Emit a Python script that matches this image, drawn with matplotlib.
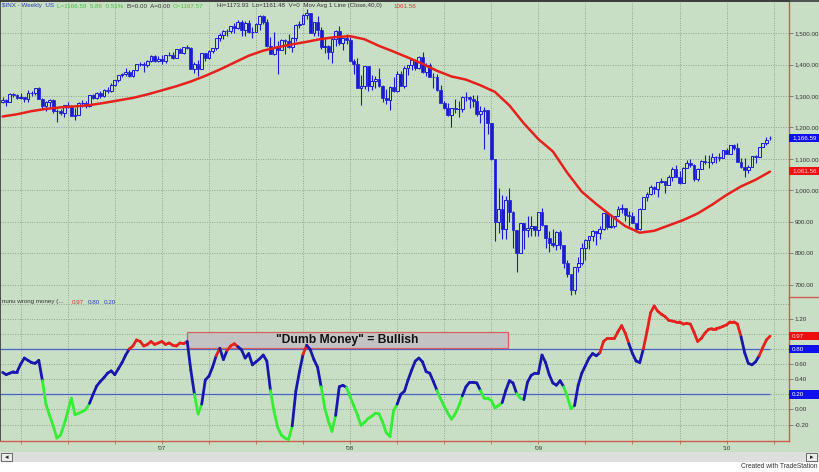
#!/usr/bin/env python3

import numpy as np
import pandas as pd
from matplotlib import pyplot as plt
from matplotlib.collections import LineCollection
from matplotlib.patches import Rectangle
from matplotlib.transforms import blended_transform_factory

plt.rcParams['font.family'] = ['Liberation Sans', 'DejaVu Sans']

###-----------------------------------------------------------------------
# weekly $INX bars, the first week ends on 2006-03-03
###-----------------------------------------------------------------------
first_friday = '2006-03-03'

opens = [
    1280, 1287, 1281, 1307, 1303, 1295, 1296, 1289, 1311, 1311, 1326, 1291, 1267, 1280, 1288, 1252, 1252, 1245, 1270, 1266, 1236, 1240,
    1279, 1279, 1267, 1302, 1295, 1311, 1299, 1320, 1315, 1336, 1350, 1366, 1369, 1377, 1364, 1381, 1401, 1401, 1397, 1410, 1427, 1411,
    1418, 1410, 1431, 1431, 1422, 1448, 1438, 1456, 1451, 1387, 1403, 1387, 1436, 1421, 1444, 1453, 1484, 1494, 1506, 1506, 1523, 1516,
    1536, 1508, 1533, 1503, 1503, 1530, 1553, 1534, 1459, 1433, 1454, 1446, 1479, 1474, 1454, 1484, 1526, 1527, 1558, 1562, 1501, 1535,
    1510, 1454, 1459, 1441, 1481, 1505, 1468, 1485,
    1479, 1412, 1401, 1325, 1331, 1395, 1331, 1349, 1353, 1331, 1293, 1288, 1330, 1315, 1370, 1333, 1390, 1398, 1414, 1388, 1425, 1376,
    1400, 1361, 1360, 1318, 1278, 1263, 1240, 1261, 1258, 1260, 1296, 1298, 1292, 1283, 1242, 1252, 1255, 1213, 1099, 899, 941, 877,
    969, 931, 873, 800, 896, 876, 880, 888,
    873, 932, 890, 850, 832, 826, 869, 827, 770, 735, 683, 757, 769, 816, 843, 857, 870, 866, 878, 929, 883, 887,
    919, 940, 946, 921, 919, 896, 879, 940, 979, 988, 1010, 1004, 1026, 1029, 1016, 1043, 1068, 1044, 1025, 1072, 1088, 1080,
    1036, 1069, 1094, 1091, 1092, 1106, 1106, 1103, 1127,
    1115, 1145, 1136, 1092, 1074, 1066, 1076, 1109, 1105, 1139, 1150, 1168]
highs = [
    1297, 1289, 1310, 1311, 1306, 1310, 1298, 1318, 1316, 1326, 1327, 1294, 1285, 1290, 1290, 1260, 1258, 1272, 1280, 1272, 1262, 1280,
    1287, 1283, 1303, 1305, 1312, 1315, 1322, 1329, 1340, 1352, 1366, 1372, 1389, 1382, 1384, 1403, 1407, 1408, 1415, 1431, 1430, 1428,
    1429, 1431, 1441, 1441, 1449, 1453, 1457, 1461, 1457, 1409, 1413, 1437, 1437, 1445, 1453, 1485, 1499, 1510, 1513, 1523, 1532, 1540,
    1540, 1538, 1540, 1518, 1532, 1556, 1556, 1545, 1488, 1504, 1474, 1480, 1481, 1497, 1488, 1530, 1538, 1561, 1576, 1563, 1536, 1553,
    1520, 1486, 1461, 1488, 1508, 1523, 1485, 1498,
    1486, 1417, 1420, 1368, 1396, 1396, 1368, 1363, 1388, 1335, 1321, 1331, 1359, 1380, 1380, 1395, 1400, 1422, 1416, 1426, 1440, 1406,
    1405, 1374, 1370, 1336, 1285, 1278, 1263, 1290, 1285, 1300, 1313, 1300, 1304, 1304, 1268, 1265, 1255, 1215, 1100, 1008, 985, 984,
    1007, 934, 874, 897, 897, 918, 918, 888,
    932, 943, 890, 871, 877, 870, 876, 827, 779, 735, 758, 788, 832, 845, 857, 875, 871, 888, 930, 931, 925, 920,
    951, 956, 946, 935, 931, 898, 943, 979, 996, 1018, 1013, 1027, 1039, 1031, 1049, 1074, 1080, 1063, 1076, 1096, 1101, 1085,
    1072, 1097, 1113, 1112, 1120, 1110, 1118, 1127, 1134,
    1146, 1149, 1151, 1104, 1104, 1080, 1110, 1112, 1139, 1151, 1170, 1174]
lows = [
    1278, 1268, 1280, 1298, 1291, 1290, 1280, 1281, 1301, 1303, 1290, 1259, 1252, 1264, 1245, 1219, 1240, 1234, 1262, 1235, 1224, 1240,
    1265, 1261, 1266, 1290, 1292, 1295, 1297, 1311, 1313, 1331, 1344, 1360, 1363, 1360, 1360, 1378, 1395, 1377, 1393, 1408, 1408, 1408,
    1403, 1406, 1427, 1416, 1420, 1438, 1433, 1449, 1387, 1374, 1364, 1385, 1410, 1419, 1437, 1447, 1475, 1482, 1491, 1499, 1500, 1514,
    1491, 1492, 1500, 1484, 1503, 1510, 1527, 1454, 1432, 1430, 1371, 1445, 1433, 1452, 1439, 1476, 1516, 1527, 1546, 1500, 1490, 1492,
    1450, 1435, 1419, 1406, 1460, 1463, 1446, 1466,
    1411, 1371, 1325, 1270, 1322, 1317, 1320, 1326, 1330, 1282, 1274, 1257, 1312, 1312, 1332, 1324, 1368, 1383, 1384, 1386, 1373, 1364,
    1359, 1326, 1316, 1278, 1260, 1238, 1200, 1246, 1234, 1248, 1283, 1262, 1265, 1236, 1213, 1133, 1180, 1098, 840, 866, 845, 845,
    899, 818, 741, 800, 815, 851, 857, 857,
    857, 888, 818, 804, 822, 812, 814, 754, 726, 667, 672, 742, 764, 779, 814, 839, 826, 845, 875, 879, 880, 882,
    919, 928, 903, 888, 896, 869, 876, 940, 968, 987, 990, 978, 1023, 992, 1016, 1030, 1042, 1020, 1025, 1072, 1075, 1030,
    1029, 1069, 1085, 1073, 1085, 1088, 1093, 1103, 1115,
    1115, 1127, 1090, 1072, 1044, 1057, 1076, 1087, 1105, 1138, 1146, 1161]
closes = [
    1287, 1281, 1307, 1303, 1295, 1296, 1289, 1311, 1311, 1326, 1291, 1267, 1280, 1288, 1252, 1252, 1245, 1270, 1266, 1236, 1240, 1279,
    1279, 1267, 1302, 1295, 1311, 1299, 1320, 1315, 1336, 1350, 1366, 1369, 1377, 1364, 1381, 1401, 1401, 1397, 1410, 1427, 1411, 1418,
    1410, 1431, 1431, 1422, 1448, 1438, 1456, 1451, 1387, 1403, 1387, 1436, 1421, 1444, 1453, 1484, 1494, 1506, 1506, 1523, 1516, 1536,
    1508, 1533, 1503, 1503, 1530, 1553, 1534, 1459, 1433, 1454, 1446, 1479, 1474, 1454, 1484, 1526, 1527, 1558, 1562, 1501, 1535, 1510,
    1454, 1459, 1441, 1481, 1505, 1468, 1485, 1479,
    1412, 1401, 1325, 1331, 1395, 1331, 1349, 1353, 1331, 1293, 1288, 1330, 1315, 1370, 1333, 1390, 1398, 1414, 1388, 1425, 1376, 1400,
    1361, 1360, 1318, 1278, 1263, 1240, 1261, 1258, 1260, 1296, 1298, 1292, 1283, 1242, 1252, 1255, 1213, 1099, 899, 941, 877, 969,
    931, 873, 800, 896, 876, 880, 888, 873,
    932, 890, 850, 832, 826, 869, 827, 770, 735, 683, 757, 769, 816, 843, 857, 870, 866, 878, 929, 883, 887, 919,
    940, 946, 921, 919, 896, 879, 940, 979, 988, 1010, 1004, 1026, 1029, 1016, 1043, 1068, 1044, 1025, 1072, 1088, 1080, 1036,
    1069, 1094, 1091, 1092, 1106, 1106, 1103, 1127, 1115,
    1145, 1136, 1092, 1074, 1066, 1076, 1109, 1105, 1139, 1150, 1160, 1167]

# Mov Avg 1 Line (Close,40) every 4th week
ma_week = list(range(0, 213, 4))
ma_close = [
    1235, 1242, 1252, 1259, 1264, 1267, 1271, 1278, 1286, 1294, 1305, 1318, 1331, 1346,
    1364, 1384, 1406, 1428, 1444, 1455, 1464, 1472, 1481, 1487, 1490, 1480, 1459, 1441,
    1422, 1402, 1380, 1362, 1352, 1334, 1313, 1270, 1213, 1163, 1124, 1056, 996, 957,
    921, 887, 866, 872, 889, 906, 927, 955, 986, 1013, 1034, 1060]

# nunu wrong money, one value per week
dumb_money = [
    0.49, 0.46, 0.48, 0.50, 0.50, 0.60, 0.68, 0.65, 0.62, 0.61,
    0.65, 0.38, 0.06, -0.08, -0.22, -0.38, -0.34, -0.20, -0.03, 0.15,
    -0.07, -0.05, -0.03, 0.00, 0.08, 0.20, 0.31, 0.37, 0.42, 0.48,
    0.51, 0.46, 0.54, 0.62, 0.72, 0.80, 0.84, 0.92, 0.90, 0.84,
    0.86, 0.90, 0.86, 0.88, 0.90, 0.86, 0.88, 0.85, 0.84, 0.88,
    0.87, 0.90, 0.52, 0.20, -0.06, 0.07, 0.39, 0.44, 0.56, 0.71,
    0.81, 0.66, 0.78, 0.84, 0.87, 0.83, 0.79, 0.68, 0.74, 0.59,
    0.63, 0.67, 0.72, 0.64, 0.25, -0.03, -0.24, -0.34, -0.38, -0.40,
    -0.22, 0.24, 0.50, 0.73, 0.85, 0.79, 0.66, 0.56, 0.30, 0.02,
    -0.16, -0.29, -0.08, 0.30, 0.32, 0.29, 0.17, 0.05, -0.07, -0.21,
    -0.17, -0.12, -0.09, -0.05, -0.06, -0.17, -0.31, -0.36, -0.02, 0.07,
    0.20, 0.24, 0.39, 0.52, 0.64, 0.68, 0.63, 0.50, 0.48, 0.37,
    0.25, 0.14, 0.04, -0.05, -0.13, -0.06, 0.04, 0.18, 0.30, 0.36,
    0.36, 0.35, 0.25, 0.15, 0.15, 0.12, 0.02, 0.05, 0.09, 0.25,
    0.38, 0.35, 0.21, 0.15, 0.13, 0.36, 0.45, 0.48, 0.48, 0.72,
    0.62, 0.46, 0.35, 0.32, 0.38, 0.30, 0.17, 0.01, 0.05, 0.32,
    0.48, 0.58, 0.68, 0.74, 0.71, 0.75, 0.90, 0.94, 0.94, 0.94,
    1.03, 1.11, 1.01, 0.87, 0.74, 0.64, 0.62, 0.80, 1.03, 1.28,
    1.37, 1.30, 1.26, 1.23, 1.18, 1.17, 1.16, 1.16, 1.13, 1.14,
    1.13, 1.02, 0.90, 0.94, 1.01, 1.06, 1.07, 1.07, 1.08, 1.10,
    1.12, 1.16, 1.16, 1.13, 0.96, 0.75, 0.61, 0.59, 0.63, 0.71,
    0.82, 0.92, 0.97]

price_ticks = [700, 800, 900, 1000, 1100, 1200, 1300, 1400, 1500]
money_ticks = [-0.2, 0.0, 0.2, 0.4, 0.6, 0.8, 1.0, 1.2]
money_grid = [-0.2, 0.0, 0.2, 0.4, 0.6, 0.8, 1.0, 1.2, 1.4]
year_labels = ["'07", "'08", "'09", "'10"]

last_close = 1166.59
last_ma = 1061.56
money_last = 0.97
money_upper = 0.80
money_lower = 0.20

header_parts = [
    ('$INX - Weekly  US', '#2b3cc4'),
    ('L=1166.59  5.86  0.51%', '#3fc43f'),
    ('B=0.00  A=0.00', '#333333'),
    ('O=1167.57', '#3fc43f'),
    ('Hi=1173.93  Lo=1161.48  V=0  Mov Avg 1 Line (Close,40,0)', '#333333'),
    ('1061.56', '#e03030')]
header_x = [2, 57, 127, 173, 217, 393]
money_header = [('nunu wrong money (...', '#333333'), ('0.97', '#e03030'),
                ('0.80', '#2b3cc4'), ('0.20', '#2b3cc4')]
money_header_x = [2, 72, 88, 104]

# "Dumb Money" note, anchored in weeks / indicator units
note_text = '"Dumb Money" = Bullish'
note_weeks = (50.9, 139.6)
note_values = (0.813, 1.025)

###-----------------------------------------------------------------------
# layout (pixels)
###-----------------------------------------------------------------------
W, H = 820, 472
PLOT_RIGHT = 789
PRICE_PX = (1, 298)
MONEY_PX = (298, 441)
BG = '#c9dfc5'
GRID = '#8ea58e'
BLUE = '#1a1ad0'
RED = '#e6201c'
NAVY = '#1717ad'
LIME = '#33ee33'
SPINE_RED = '#c9604c'
DARK = '#3a3a3a'
SMALL = 4.5


def fx(px):
    return px / W


def fy(py):
    return 1.0 - py / H


def panel(fig, top, bottom):
    return fig.add_axes([0, fy(bottom), fx(PLOT_RIGHT), (bottom - top) / H])


def tag(ax, value, text, color, txtcolor, px_per_unit):
    tr = blended_transform_factory(ax.transAxes, ax.transData)
    h = 8.5 / px_per_unit
    ax.add_patch(Rectangle((1.0, value - h / 2), 31 / PLOT_RIGHT, h, transform=tr,
                           facecolor=color, edgecolor='none', clip_on=False, zorder=10))
    ax.text(1.0 + 3 / PLOT_RIGHT, value, text, transform=tr, color=txtcolor,
            fontsize=SMALL, va='center', ha='left', zorder=11, clip_on=False)


o = np.array(opens, dtype=float)
hi = np.array(highs, dtype=float)
lo = np.array(lows, dtype=float)
c = np.array(closes, dtype=float)
money = np.array(dumb_money)
n = len(c)
x = np.arange(n)

dates = pd.date_range(first_friday, periods=n + 6, freq='W-FRI')
qkey = dates.year * 4 + dates.quarter
quarter_starts = np.where(np.diff(qkey) != 0)[0] + 1
year_starts = np.where(np.diff(dates.year) != 0)[0] + 1

xlim = ((0 - 2.6) / 3.62, (PLOT_RIGHT - 2.6) / 3.62)

fig = plt.figure(figsize=(W / 100, H / 100), dpi=100, facecolor=BG)

###-----------------------------------------------------------------------
# price panel
###-----------------------------------------------------------------------
ax = panel(fig, *PRICE_PX)
ax.set_facecolor(BG)
ax.set_xlim(*xlim)
ax.set_ylim(658.7, 1601.6)

for q in quarter_starts:
    ax.axvline(q, color=GRID, lw=0.7, ls=(0, (1, 1.5)), zorder=1)
for p in price_ticks:
    ax.axhline(p, color=GRID, lw=0.7, ls=(0, (1, 1.5)), zorder=1)

up = c >= o
body_lo = np.minimum(o, c)
body_hi = np.maximum(o, c)
ax.vlines(x, lo, body_lo, color=BLUE, lw=0.8, zorder=3)
ax.vlines(x, body_hi, hi, color=BLUE, lw=0.8, zorder=3)
ax.bar(x[up], (body_hi - body_lo)[up], bottom=body_lo[up], width=0.78,
       facecolor='none', edgecolor=BLUE, linewidth=0.7, zorder=3)
ax.bar(x[~up], (body_hi - body_lo)[~up], bottom=body_lo[~up], width=0.78,
       facecolor=BLUE, edgecolor=BLUE, linewidth=0.5, zorder=3)

ax.plot(ma_week, ma_close, color=RED, lw=1.8, solid_capstyle='round', zorder=4)

ax.yaxis.tick_right()
ax.set_yticks(price_ticks)
ax.set_yticklabels([f'{p:,.2f}' for p in price_ticks])
ax.tick_params(axis='y', direction='out', length=3, width=0.6, color='#707070',
               labelsize=SMALL, labelcolor='#333333', pad=1)
ax.set_xticks([])
for side in ['left', 'top']:
    ax.spines[side].set_color(DARK)
    ax.spines[side].set_linewidth(1.2)
ax.spines['right'].set_color(SPINE_RED)
ax.spines['right'].set_linewidth(1.0)
ax.spines['bottom'].set_visible(False)

ppu = (PRICE_PX[1] - PRICE_PX[0]) / (1601.6 - 658.7)
tag(ax, last_close, f'{last_close:,.2f}', '#1010ee', 'white', ppu)
tag(ax, last_ma, f'{last_ma:,.2f}', '#ee1010', '#ffd8d8', ppu)

###-----------------------------------------------------------------------
# dumb money panel
###-----------------------------------------------------------------------
bx = panel(fig, *MONEY_PX)
bx.set_facecolor('none')
bx.set_xlim(*xlim)
bx.set_ylim(-0.4185, 1.4755)

for q in quarter_starts:
    bx.axvline(q, color=GRID, lw=0.7, ls=(0, (1, 1.5)), zorder=1)
for v in money_grid:
    bx.axhline(v, color=GRID, lw=0.7, ls=(0, (1, 1.5)), zorder=1)
bx.hlines([money_upper, money_lower], xlim[0], x[-1], color='#4a62c6', lw=0.9, zorder=2)

bx.add_patch(Rectangle((note_weeks[0], note_values[0]), note_weeks[1] - note_weeks[0],
                       note_values[1] - note_values[0], facecolor='#c3c3c3',
                       edgecolor='#d86060', lw=0.9, zorder=3))
bx.text(sum(note_weeks) / 2, sum(note_values) / 2, note_text, ha='center', va='center',
        fontsize=8.7, fontweight='bold', color='#111111', zorder=3.5)

pts = np.column_stack([x, money])
segs = np.stack([pts[:-1], pts[1:]], axis=1)
seg_colors = [RED if v > money_upper else (LIME if v < money_lower else NAVY) for v in money[1:]]
bx.add_collection(LineCollection(segs, colors=seg_colors, linewidths=2.0,
                                 capstyle='round', joinstyle='round', zorder=4))

# labels at 0.20 / 0.80 / 1.00 sit under the value tags, as in TradeStation
hidden = [money_lower, money_upper, 1.0]
bx.yaxis.tick_right()
bx.set_yticks(money_ticks)
bx.set_yticklabels(['' if any(abs(v - h) < 1e-9 for h in hidden) else f'{v:.2f}'
                    for v in money_ticks])
bx.tick_params(axis='y', direction='out', length=3, width=0.6, color='#707070',
               labelsize=SMALL, labelcolor='#333333', pad=1)
bx.set_xticks(year_starts[:len(year_labels)])
bx.set_xticklabels(year_labels)
bx.set_xticks(quarter_starts, minor=True)
bx.tick_params(axis='x', which='both', direction='out', length=2, width=0.6,
               color=SPINE_RED, labelsize=SMALL, labelcolor='#333333', pad=1.5)
bx.spines['left'].set_color(DARK)
bx.spines['left'].set_linewidth(1.2)
bx.spines['top'].set_visible(False)
for side in ['right', 'bottom']:
    bx.spines[side].set_color(SPINE_RED)
    bx.spines[side].set_linewidth(1.0)

mpu = (MONEY_PX[1] - MONEY_PX[0]) / (1.4755 + 0.4185)
tag(bx, money_last, f'{money_last:.2f}', '#ee1010', '#ffd8d8', mpu)
tag(bx, money_upper, f'{money_upper:.2f}', '#1010ee', 'white', mpu)
tag(bx, money_lower, f'{money_lower:.2f}', '#1010ee', 'white', mpu)

###-----------------------------------------------------------------------
# headers, separators, scroll bar
###-----------------------------------------------------------------------
for (txt, col), px in zip(header_parts, header_x):
    fig.text(fx(px), fy(6), txt, color=col, fontsize=SMALL, va='center', ha='left')
for (txt, col), px in zip(money_header, money_header_x):
    fig.text(fx(px), fy(302), txt, color=col, fontsize=SMALL, va='center', ha='left')

fig.add_artist(plt.Line2D([fx(PLOT_RIGHT), 1.0], [fy(297), fy(297)], color=SPINE_RED, lw=1.0))
fig.add_artist(plt.Line2D([0, 1.0], [fy(0.5), fy(0.5)], color=DARK, lw=1.2))

fig.add_artist(Rectangle((0, fy(472)), 1.0, 10 / H, transform=fig.transFigure,
                         facecolor='white', edgecolor='none'))
fig.add_artist(Rectangle((0, fy(462)), 1.0, 10 / H, transform=fig.transFigure,
                         facecolor='#dedede', edgecolor='none'))
for bx0, arrow in [(1, '\u25c2'), (806, '\u25b8')]:
    fig.add_artist(Rectangle((fx(bx0), fy(461)), fx(11), 8 / H, transform=fig.transFigure,
                             facecolor='#ececec', edgecolor='#555555', lw=0.6))
    fig.text(fx(bx0 + 5.5), fy(457), arrow, fontsize=5, ha='center', va='center',
             color='#222222', family='DejaVu Sans')
fig.text(fx(818), fy(467), 'Created with TradeStation', fontsize=4.8,
         ha='right', va='center', color='#333333')

fig.savefig('out.png', dpi=100, facecolor=BG)
